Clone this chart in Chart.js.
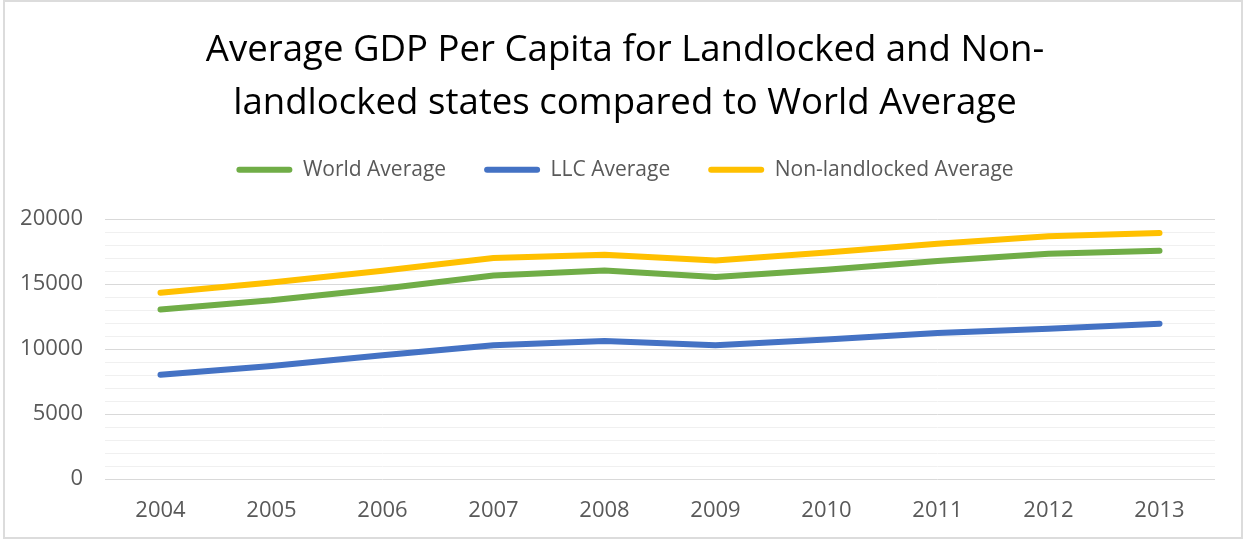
<!DOCTYPE html>
<html>
<head>
<meta charset="utf-8">
<title>Average GDP Per Capita</title>
<script src="https://cdn.jsdelivr.net/npm/chart.js@4/dist/chart.umd.min.js"></script>
<style>
    html, body { margin: 0; padding: 0; background: #fff; }
    body { width: 1250px; height: 541px; position: relative; overflow: hidden; }
    .frame {
        position: absolute; left: 3px; top: 0; width: 1236px; height: 535px;
        border: 2px solid #dcdcdc;
    }
    #gdpChart { position: absolute; left: 0; top: 0; }
</style>
</head>
<body>
<div class="frame"></div>
<canvas id="gdpChart" width="1250" height="541"></canvas>
<script>
const years = ["2004", "2005", "2006", "2007", "2008", "2009", "2010", "2011", "2012", "2013"];
const worldAverage = [13050, 13750, 14650, 15670, 16050, 15540, 16110, 16770, 17330, 17560];
const llcAverage = [8020, 8700, 9520, 10290, 10620, 10290, 10730, 11240, 11570, 11950];
const nonLandlockedAverage = [14330, 15120, 16020, 17010, 17260, 16820, 17440, 18100, 18680, 18930];
const yTicks = [0, 5000, 10000, 15000, 20000];

(function () {
    const FONT = "'Open Sans', 'DejaVu Sans', sans-serif";
    const GRAY = "#595959";

    const line = (label, data, color) => ({
        label: label,
        data: data,
        borderColor: color,
        backgroundColor: color,
        borderWidth: 6,
        borderCapStyle: "round",
        borderJoinStyle: "round",
        pointRadius: 0,
        pointHoverRadius: 0,
        tension: 0,
        fill: false
    });

    // extra room between the legend row and the plot
    const legendGap = {
        id: "legendGap",
        beforeInit(chart) {
            const fitLegend = chart.legend.fit;
            chart.legend.fit = function () {
                fitLegend.call(this);
                this.height += 29;
            };
        }
    };

    const ctx = document.getElementById("gdpChart").getContext("2d");

    new Chart(ctx, {
        type: "line",
        data: {
            labels: years,
            datasets: [
                line("World Average", worldAverage, "#70AD47"),
                line("LLC Average", llcAverage, "#4472C4"),
                line("Non-landlocked Average", nonLandlockedAverage, "#FFC000")
            ]
        },
        plugins: [legendGap],
        options: {
            responsive: false,
            animation: false,
            layout: { padding: { top: 24, right: 0, bottom: 0, left: 0 } },
            plugins: {
                tooltip: { enabled: false },
                title: {
                    display: true,
                    text: ["Average GDP Per Capita for Landlocked and Non-", "landlocked states compared to World Average"],
                    color: "#000",
                    font: { family: FONT, size: 36.6, weight: "normal", lineHeight: 1.45 },
                    padding: { top: 0, bottom: -9 }
                },
                legend: {
                    position: "top",
                    labels: {
                        color: GRAY,
                        font: { family: FONT, size: 21 },
                        boxWidth: 56,
                        boxHeight: 6,
                        padding: 38,
                        useBorderRadius: true,
                        borderRadius: 3,
                        generateLabels: chart => chart.data.datasets.map((ds, i) => ({
                            text: ds.label,
                            fillStyle: ds.borderColor,
                            strokeStyle: ds.borderColor,
                            lineWidth: 0,
                            fontColor: GRAY,
                            datasetIndex: i,
                            borderRadius: 3
                        }))
                    }
                }
            },
            scales: {
                x: {
                    offset: true,
                    grid: { display: false, drawTicks: false },
                    border: { display: false },
                    ticks: { color: GRAY, font: { family: FONT, size: 22 }, padding: 19 },
                    afterFit: scale => { scale.height = 62; }
                },
                y: {
                    min: 0,
                    max: 20000,
                    border: { display: false },
                    grid: {
                        drawTicks: false,
                        color: c => yTicks.includes(c.tick.value) ? "#d9d9d9" : "#f0f0f0",
                        lineWidth: 1
                    },
                    ticks: {
                        stepSize: 1000,
                        autoSkip: false,
                        color: GRAY,
                        font: { family: FONT, size: 22 },
                        padding: 22,
                        callback: v => yTicks.includes(v) ? String(v) : ""
                    },
                    afterFit: scale => { scale.width = 105; }
                },
                // blank right-hand axis, keeps the plot clear of the right edge
                yRight: {
                    position: "right",
                    min: 0,
                    max: 20000,
                    grid: { display: false, drawTicks: false },
                    border: { display: false },
                    ticks: { display: false },
                    afterFit: scale => { scale.width = 35; }
                }
            }
        }
    });
})();
</script>
</body>
</html>
